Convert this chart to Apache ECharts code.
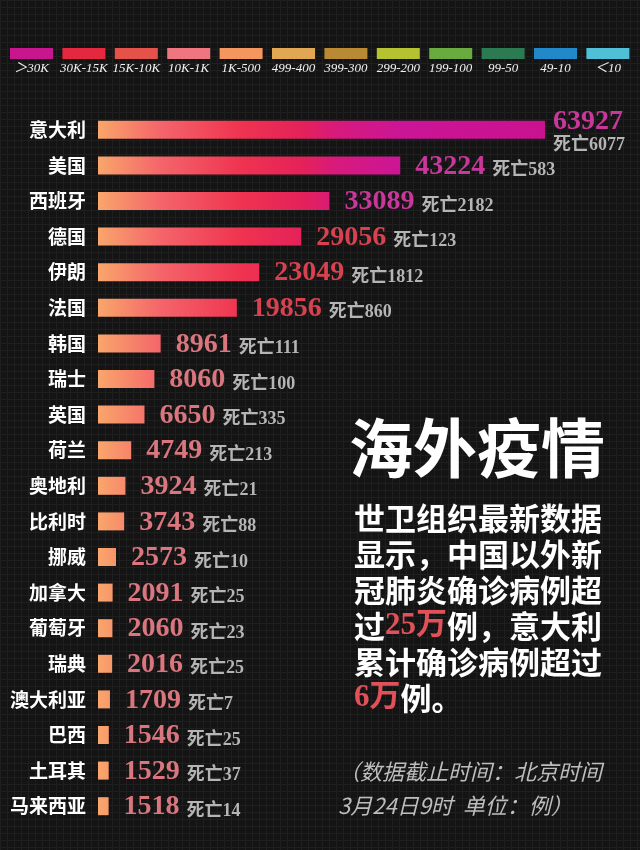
<!DOCTYPE html>
<html>
<head>
<meta charset="utf-8">
<script src="https://cdn.jsdelivr.net/npm/echarts@6/dist/echarts.min.js"></script>
<style>
  html, body { margin: 0; padding: 0; }
  body {
    background-color: #141414;
    background-image:
      linear-gradient(#1f1f1f 1px, transparent 1px),
      linear-gradient(90deg, #1f1f1f 1px, transparent 1px);
    background-size: 7px 7px;
  }
  #main { width: 640px; height: 850px; }
</style>
</head>
<body>
<div id="main"></div>
<script>
// 海外疫情 数据
const countries = ['意大利', '美国', '西班牙', '德国', '伊朗', '法国', '韩国', '瑞士', '英国', '荷兰',
  '奥地利', '比利时', '挪威', '加拿大', '葡萄牙', '瑞典', '澳大利亚', '巴西', '土耳其', '马来西亚']
const confirmed = [63927, 43224, 33089, 29056, 23049, 19856, 8961, 8060, 6650, 4749,
  3924, 3743, 2573, 2091, 2060, 2016, 1709, 1546, 1529, 1518]
const deaths = [6077, 583, 2182, 123, 1812, 860, 111, 100, 335, 213,
  21, 88, 10, 25, 23, 25, 7, 25, 37, 14]

// 图例 色阶
const legendLabels = ['＞30K', '30K-15K', '15K-10K', '10K-1K', '1K-500', '499-400',
  '399-300', '299-200', '199-100', '99-50', '49-10', '＜10']
const legendColors = ['#c8168f', '#e4283f', '#e5524a', '#ef7580', '#f5965f', '#e2a752',
  '#b98933', '#b4c32f', '#69ab3f', '#2c7a52', '#2189c9', '#4fc0d8']

const serif = '"Liberation Serif", "Noto Sans CJK SC", serif'
const cjk = '"Noto Sans CJK SC", sans-serif'

const chart = echarts.init(document.getElementById('main'))

// 数值颜色 按区间
const tierKey = v => v > 30000 ? 'v1' : (v > 15000 ? 'v2' : 'v3')

const maxVal = Math.max(...confirmed)

const barData = confirmed.map((v, i) => {
  const isMax = v === maxVal
  return {
    value: v,
    label: {
      distance: isMax ? 8 : 15,
      offset: isMax ? [0, 4] : [0, 3],
      formatter: isMax
        ? `{${tierKey(v)}|${v}}\n{d0|死亡${deaths[i]}}`
        : `{${tierKey(v)}|${v}}{d|死亡${deaths[i]}}`
    }
  }
})

// 条形渐变：橙 -> 红 -> 品红（按画布坐标）
const barGradient = new echarts.graphic.LinearGradient(98, 0, 545, 0, [
  { offset: 0, color: '#f9a66b' },
  { offset: 0.14, color: '#f4656a' },
  { offset: 0.32, color: '#ef3350' },
  { offset: 0.46, color: '#e4215a' },
  { offset: 0.53, color: '#d81a7c' },
  { offset: 0.68, color: '#cb1597' },
  { offset: 1, color: '#c8128f' }
], true)

// 顶部图例
const legendGraphics = []
legendLabels.forEach((name, i) => {
  const x = 10 + i * 52.4
  legendGraphics.push({
    type: 'rect',
    shape: { x: x, y: 48, width: 43, height: 11 },
    style: { fill: legendColors[i] }
  })
  legendGraphics.push({
    type: 'text',
    x: x + 21.5,
    y: 69,
    style: {
      text: name,
      fill: '#f2f2f2',
      font: 'italic 13px ' + serif,
      align: 'center',
      verticalAlign: 'middle'
    }
  })
})

const textGraphics = [
  {
    type: 'text',
    x: 349,
    y: 448,
    style: {
      text: '海外疫情',
      fill: '#ffffff',
      font: 'bold 64px ' + cjk,
      verticalAlign: 'middle'
    }
  },
  {
    type: 'text',
    x: 354,
    y: 500,
    style: {
      text: '世卫组织最新数据\n显示，中国以外新\n冠肺炎确诊病例超\n过{r|25万}例，意大利\n累计确诊病例超过\n{r|6万}例。',
      fill: '#ffffff',
      font: 'bold 31px ' + cjk,
      lineHeight: 36,
      rich: {
        r: { fill: '#e2515a', font: 'bold 31px ' + serif, lineHeight: 36 }
      }
    }
  },
  {
    type: 'text',
    x: 338,
    y: 755,
    style: {
      text: '（数据截止时间：北京时间\n3月24日9时  单位：例）',
      fill: '#bdbdbd',
      font: 'italic 22px ' + cjk,
      lineHeight: 34
    }
  }
]

const numStyle = color => ({
  color: color, fontFamily: serif, fontWeight: 'bold', fontSize: 28, verticalAlign: 'bottom', lineHeight: 24
})

const option = {
  backgroundColor: 'transparent',
  animation: false,
  grid: { left: 98, right: 52.5, top: 112, bottom: 26 },
  xAxis: {
    type: 'value',
    min: 0,
    max: 70000,
    show: false
  },
  yAxis: {
    type: 'category',
    inverse: true,
    data: countries,
    axisLine: { show: false },
    axisTick: { show: false },
    splitLine: { show: false },
    axisLabel: {
      color: '#ffffff',
      fontSize: 19,
      fontWeight: 'bold',
      fontFamily: cjk,
      margin: 12
    }
  },
  series: [{
    type: 'bar',
    data: barData,
    barWidth: 18,
    itemStyle: { color: barGradient },
    label: {
      show: true,
      position: 'right',
      rich: {
        v1: numStyle('#c8379a'),
        v2: numStyle('#d6424f'),
        v3: numStyle('#d9767e'),
        d: { color: '#b5b5b5', fontFamily: serif, fontWeight: 'bold', fontSize: 18, verticalAlign: 'bottom', lineHeight: 24, padding: [0, 0, 1, 7] },
        d0: { color: '#b5b5b5', fontFamily: serif, fontWeight: 'bold', fontSize: 18, lineHeight: 20 }
      }
    }
  }],
  graphic: legendGraphics.concat(textGraphics)
}

chart.setOption(option)
</script>
</body>
</html>
